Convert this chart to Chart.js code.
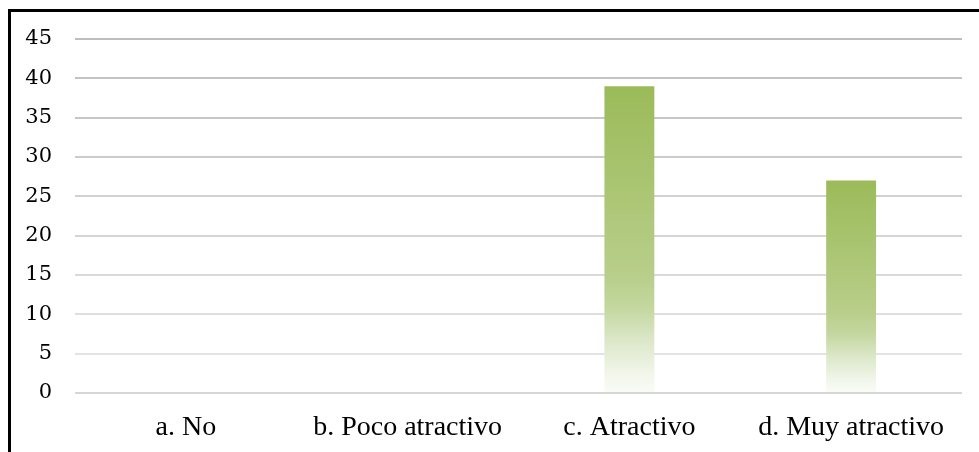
<!DOCTYPE html>
<html>
<head>
<meta charset="utf-8">
<script src="https://cdn.jsdelivr.net/npm/chart.js@4"></script>
<style>
    html, body { margin: 0; padding: 0; background: #fff; }
    #wrap { position: relative; width: 979px; height: 452px; }
    #frame {
        position: absolute; left: 8px; top: 9px; right: 0; bottom: 0;
        border-top: 3px solid #000; border-left: 3px solid #000;
        pointer-events: none;
    }
</style>
</head>
<body>
<div id="wrap">
    <canvas id="chart"></canvas>
    <div id="frame"></div>
</div>
<script>
const categories = ['a. No', 'b. Poco atractivo', 'c. Atractivo', 'd. Muy atractivo'];
const values = [0, 0, 39, 27];
const yTicks = [0, 5, 10, 15, 20, 25, 30, 35, 40, 45];

// degradado verde -> blanco por barra
function barFill(context) {
    const chart = context.chart;
    if (!chart.chartArea) return '#9BBB59';
    const y = chart.scales.y;
    const top = y.getPixelForValue(context.raw);
    const bottom = y.getPixelForValue(0);
    if (bottom - top < 1) return '#9BBB59';
    const g = chart.ctx.createLinearGradient(0, top, 0, bottom);
    g.addColorStop(0, '#9BBB59');
    g.addColorStop(0.62, '#B8CE8A');
    g.addColorStop(0.72, '#C3D79F');
    g.addColorStop(0.82, '#DAE6C6');
    g.addColorStop(0.93, '#F0F5E8');
    g.addColorStop(1, '#FAFCF7');
    return g;
}

// líneas de la cuadrícula más claras abajo
function gridColor(context) {
    const v = context.tick ? context.tick.value : 0;
    if (v === 0) return '#d6d6d6';
    const t = v / 45;
    const c = Math.round(232 - t * 42);
    return `rgb(${c},${c},${c})`;
}

new Chart(document.getElementById('chart'), {
    type: 'bar',
    data: {
        labels: categories,
        datasets: [{
            data: values,
            backgroundColor: barFill,
            borderWidth: 0,
            categoryPercentage: 1,
            barPercentage: 0.225
        }]
    },
    options: {
        responsive: true,
        maintainAspectRatio: false,
        animation: false,
        layout: { padding: { top: 39, right: 17, left: 0, bottom: 0 } },
        plugins: { legend: { display: false }, tooltip: { enabled: false } },
        scales: {
            x: {
                grid: { display: false, drawTicks: false },
                border: { display: false },
                ticks: {
                    color: '#000',
                    font: { family: 'Liberation Serif', size: 28 },
                    padding: 18,
                    maxRotation: 0
                },
                afterFit(scale) { scale.height = 59; }
            },
            y: {
                min: 0,
                max: 45,
                afterBuildTicks(scale) { scale.ticks = yTicks.map(v => ({ value: v })); },
                grid: { color: gridColor, lineWidth: 2, drawTicks: false },
                border: { display: false },
                ticks: {
                    color: '#000',
                    font: { family: 'DejaVu Serif', size: 21 },
                    padding: 23
                },
                afterFit(scale) { scale.width = 75; }
            }
        }
    }
});
</script>
</body>
</html>
